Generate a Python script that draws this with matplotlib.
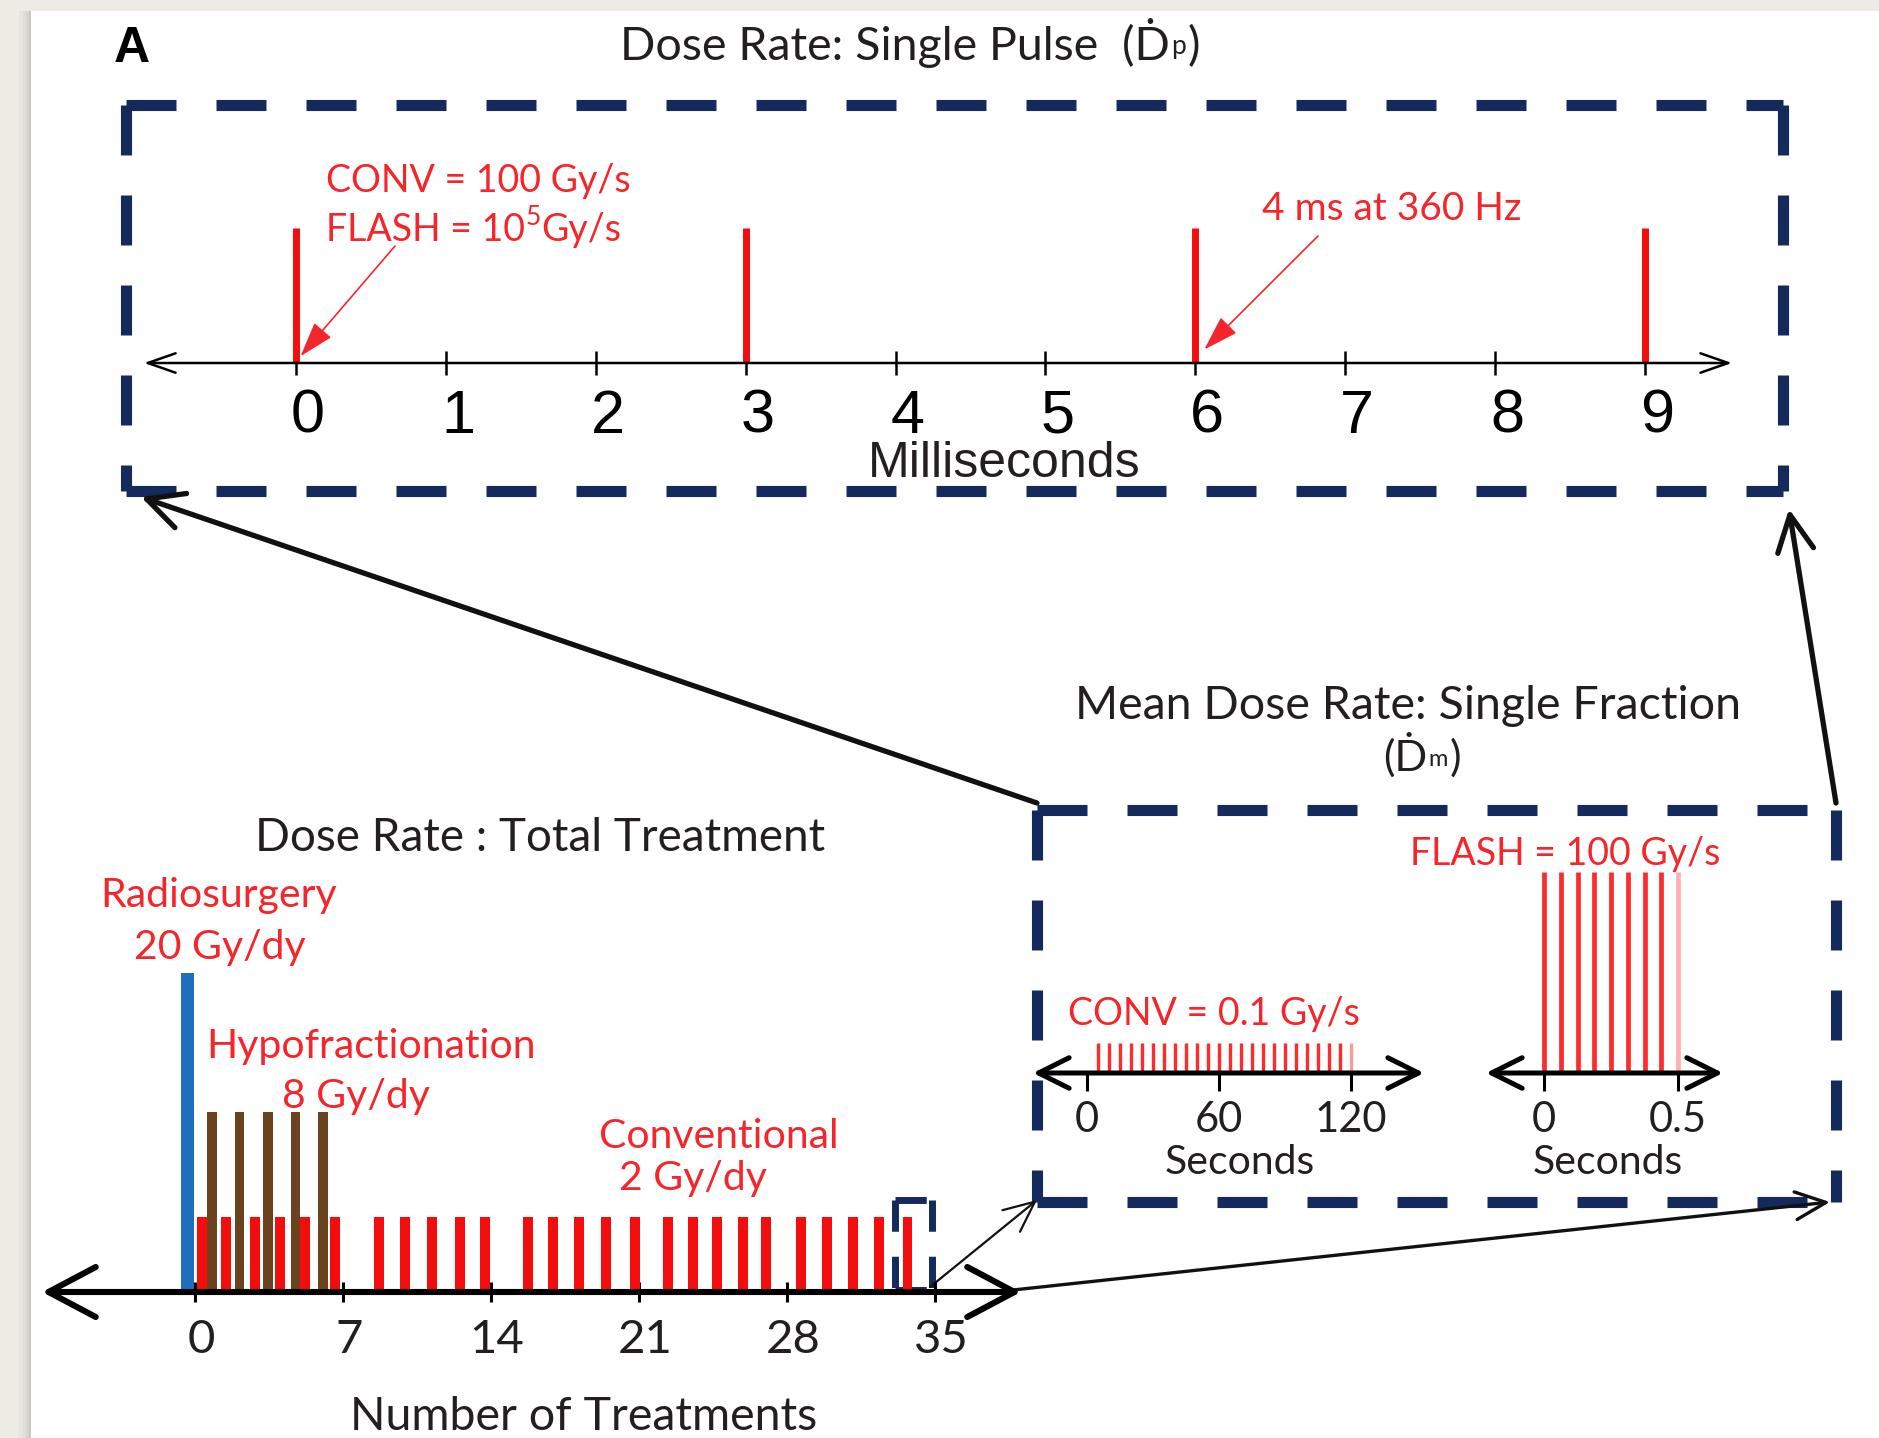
import matplotlib
matplotlib.use("Agg")
import matplotlib.pyplot as plt
from matplotlib import font_manager
from matplotlib.patches import Rectangle
from matplotlib.lines import Line2D
from matplotlib.transforms import ScaledTranslation

W, H = 1879, 1438

# ---- values ----
# top panel: single pulse, time in milliseconds
ms_ticks = [0, 1, 2, 3, 4, 5, 6, 7, 8, 9]
pulse_ms = [0, 3, 6, 9]
pulse_height = [1.0, 1.0, 1.0, 1.0]

# middle panel: one fraction, time in seconds
conv_sec_ticks = [0, 60, 120]
conv_pulse_sec = [5, 10, 15, 20, 25, 30, 35, 40, 45, 50, 55, 60,
                  65, 70, 75, 80, 85, 90, 95, 100, 105, 110, 115, 120]
conv_pulse_height = 0.15
flash_sec_ticks = [0, 0.5]
flash_sec_labels = ["0", "0.5"]
flash_pulse_sec = [0, 0.0625, 0.125, 0.1875, 0.25, 0.3125, 0.375, 0.4375, 0.5]
flash_pulse_height = 1.0

# bottom panel: whole treatment, number of treatments (days)
day_ticks = [0, 7, 14, 21, 28, 35]
radio_days = [-0.35]
radio_height = 8.5
hypo_days = [0.8, 2.1, 3.45, 4.75, 6.05]
hypo_height = 4.8
conv_days = [0.35, 1.45, 2.85, 4.0, 5.2, 6.6,
             8.7, 9.95, 11.2, 12.55, 13.7,
             15.75, 16.95, 18.15, 19.45, 20.8,
             22.35, 23.55, 24.7, 25.9, 27.0,
             28.65, 29.9, 31.1, 32.35, 33.7]
conv_height = 2.0

# ---- style ----
INK = "#231f20"
RED_TXT = "#f5262b"
RED = "#f40d0d"
NAVY = "#142a5c"
FILL = "#e7eaf1"
BROWN = "#6b421e"
BLUE = "#1f6ebe"

have = {f.name for f in font_manager.fontManager.ttflist}
NARROW = "Liberation Sans Narrow" if "Liberation Sans Narrow" in have else "Lato"
FAM = [NARROW, "DejaVu Sans"]
ARIAL = ["Liberation Sans", "DejaVu Sans"]


def px_axes(x0, x1, y0, y1):
    # axes placed by pixel box (y measured from the top)
    ax = fig.add_axes([x0 / W, 1 - y1 / H, (x1 - x0) / W, (y1 - y0) / H])
    ax.patch.set_visible(False)
    for s in ax.spines.values():
        s.set_visible(False)
    ax.set_yticks([])
    return ax


def lim(x0, x1, pa, va, pb, vb):
    k = (vb - va) / (pb - pa)
    return va + (x0 - pa) * k, va + (x1 - pa) * k


def number_line(ax, lw, hl, hw):
    ax.annotate("", xy=(0, 0), xytext=(1, 0), xycoords="axes fraction",
                arrowprops=dict(arrowstyle="<->,head_length=%s,head_width=%s" % (hl, hw),
                                lw=lw, color="black", shrinkA=0, shrinkB=0,
                                mutation_scale=10), zorder=6)


def shift_labels(ax, dx):
    off = ScaledTranslation(dx / 100, 0, fig.dpi_scale_trans)
    for t in ax.get_xticklabels():
        t.set_transform(t.get_transform() + off)


def dashed_box(x0, y0, x1, y1, lw=8):
    bg.add_patch(Rectangle((x0, y0), x1 - x0, y1 - y0, facecolor=FILL,
                           edgecolor="none", zorder=0))
    sides = [((x0, x1), (y0, y0)), ((x0, x1), (y1, y1)),
             ((x0, x0), (y0, y1)), ((x1, x1), (y0, y1))]
    for xs, ys in sides:
        bg.add_line(Line2D(xs, ys, color=NAVY, lw=lw, linestyle=(0, (4.5, 3.6)),
                           dash_capstyle="butt", zorder=1))


def label(x, y, s, size, color=INK, ha="center", fam=FAM, **kw):
    return bg.text(x, y, s, fontsize=size, color=color, ha=ha, va="baseline",
                   family=fam, **kw)


fig = plt.figure(figsize=(W / 100, H / 100), dpi=100)
fig.patch.set_facecolor("#ecece5")
bg = fig.add_axes([0, 0, 1, 1])
bg.set_xlim(0, W)
bg.set_ylim(H, 0)
bg.axis("off")

# page with a soft shadow
for off, a in [(12, 0.06), (8, 0.08), (5, 0.12), (2, 0.18)]:
    bg.add_patch(Rectangle((31 - off, 11), W, H, facecolor="#8f8f86", alpha=a,
                           edgecolor="none"))
bg.add_patch(Rectangle((31, 11), W, H, facecolor="white", edgecolor="none"))

# frames
dashed_box(126, 105, 1783, 491)
dashed_box(1037, 810, 1836, 1202)
dashed_box(895, 1200, 932, 1290, lw=5)

# connectors
big = dict(arrowstyle="->,head_length=2.6,head_width=1.3", lw=3.8, color="#111111",
           shrinkA=0, shrinkB=0, mutation_scale=10)
bg.annotate("", xy=(141, 497), xytext=(1037, 803), arrowprops=big)
bg.annotate("", xy=(1789, 509), xytext=(1836, 803), arrowprops=big)
thin = dict(arrowstyle="->,head_length=2.2,head_width=1.0", lw=1.6, color="#111111",
            shrinkA=0, shrinkB=0, mutation_scale=10)
bg.annotate("", xy=(1037, 1200), xytext=(930, 1287), arrowprops=thin)
thin2 = dict(thin, lw=2.4)
bg.annotate("", xy=(1830, 1202), xytext=(1013, 1290), arrowprops=thin2)

# ---- top panel: single pulse ----
ax1 = px_axes(144, 1732, 228, 363)
ax1.set_xlim(*lim(144, 1732, 296, 0, 1645, 9))
ax1.set_ylim(0, 1)
ax1.vlines(pulse_ms, 0, pulse_height, color=RED, lw=5, zorder=2)
number_line(ax1, 1.8, 2.0, 0.7)
ax1.set_xticks(ms_ticks)
ax1.tick_params(axis="x", direction="inout", length=17, width=1.8, pad=10, labelsize=44)
for t in ax1.get_xticklabels():
    t.set_family(ARIAL)
shift_labels(ax1, 12)

red_arrow = dict(arrowstyle="-|>,head_length=2.2,head_width=0.7", lw=1.2, color=RED_TXT,
                 shrinkA=0, shrinkB=0, mutation_scale=10)
ax1.annotate("", xy=(0.03, 0.05), xytext=(395, 246), textcoords=bg.transData,
             arrowprops=red_arrow, annotation_clip=False)
ax1.annotate("", xy=(6.06, 0.1), xytext=(1318, 236), textcoords=bg.transData,
             arrowprops=red_arrow, annotation_clip=False)

# ---- middle panel: one fraction ----
ax2a = px_axes(1033, 1424, 872, 1073)
ax2a.set_xlim(*lim(1033, 1424, 1087, 0, 1351, 120))
ax2a.set_ylim(0, 1)
ax2a.vlines(conv_pulse_sec[:-1], 0, conv_pulse_height, color="#ff2a2a", lw=2.4)
ax2a.vlines(conv_pulse_sec[-1:], 0, conv_pulse_height, color="#ff9a9a", lw=2.4)
number_line(ax2a, 3.6, 2.2, 1.1)
ax2a.set_xticks(conv_sec_ticks)

ax2b = px_axes(1486, 1723, 872, 1073)
ax2b.set_xlim(*lim(1486, 1723, 1544, 0, 1678, 0.5))
ax2b.set_ylim(0, 1)
ax2b.vlines(flash_pulse_sec[:-1], 0, flash_pulse_height, color="#ff2a2a", lw=3.4)
ax2b.vlines(flash_pulse_sec[-1:], 0, flash_pulse_height, color="#ffb0b0", lw=3.4)
number_line(ax2b, 3.6, 2.2, 1.1)
ax2b.set_xticks(flash_sec_ticks, labels=flash_sec_labels)

for ax in (ax2a, ax2b):
    ax.tick_params(axis="x", direction="out", length=13, width=2.2, pad=7,
                   labelsize=30, labelcolor=INK)
    for t in ax.get_xticklabels():
        t.set_family(FAM)

# ---- bottom panel: total treatment ----
ax3 = px_axes(42, 1021, 972, 1292)
ax3.set_xlim(*lim(42, 1021, 195, 0, 935, 35))
ax3.set_ylim(0, 8.53)
ax3.bar(conv_days, conv_height, width=0.47, color=RED, zorder=2)
ax3.bar(hypo_days, hypo_height, width=0.45, color=BROWN, zorder=3)
ax3.bar(radio_days, radio_height, width=0.62, color=BLUE, zorder=4)
number_line(ax3, 4.4, 3.4, 1.8)
ax3.set_xticks(day_ticks)
ax3.tick_params(axis="x", direction="inout", length=15, width=2.2, pad=12,
                labelsize=34, labelcolor=INK)
for t in ax3.get_xticklabels():
    t.set_family(FAM)
shift_labels(ax3, 6)

# ---- text ----
bg.text(132, 62, "A", fontsize=36, fontweight="bold", family=ARIAL, ha="center",
        va="baseline", color="black")

t1 = label(895, 60, "Dose Rate: Single Pulse  (\u1e0a", 33.5)
t2 = bg.annotate("p", xy=(1, 0.18), xycoords=t1, xytext=(1, 0), textcoords="offset points",
                 fontsize=19, family=FAM, color=INK, ha="left", va="bottom")
bg.annotate(")", xy=(1, 0), xycoords=(t2, t1), xytext=(1, 0), textcoords="offset points",
            fontsize=33.5, family=FAM, color=INK, ha="left", va="bottom")

label(326, 192, "CONV = 100 Gy/s", 27, RED_TXT, ha="left")
f1 = label(326, 241, "FLASH = 10", 27, RED_TXT, ha="left")
f2 = bg.annotate("5", xy=(1, 0.5), xycoords=f1, xytext=(0.5, 0), textcoords="offset points",
                 fontsize=19, family=FAM, color=RED_TXT, ha="left", va="bottom")
bg.annotate("Gy/s", xy=(1, 0), xycoords=(f2, f1), xytext=(0.5, 0), textcoords="offset points",
            fontsize=27, family=FAM, color=RED_TXT, ha="left", va="bottom")
label(1262, 220, "4 ms at 360 Hz", 28, RED_TXT, ha="left")
label(1004, 477, "Milliseconds", 36, fam=ARIAL)

label(1408, 719, "Mean Dose Rate: Single Fraction", 33.5)
m1 = label(1405, 771, "(\u1e0a", 31)
m2 = bg.annotate("m", xy=(1, 0.18), xycoords=m1, xytext=(1, 0), textcoords="offset points",
                 fontsize=17, family=FAM, color=INK, ha="left", va="bottom")
bg.annotate(")", xy=(1, 0), xycoords=(m2, m1), xytext=(1, 0), textcoords="offset points",
            fontsize=31, family=FAM, color=INK, ha="left", va="bottom")
label(1565, 865, "FLASH = 100 Gy/s", 27, RED_TXT)
label(1214, 1025, "CONV = 0.1 Gy/s", 27, RED_TXT)
label(1240, 1174, "Seconds", 29.5)
label(1608, 1174, "Seconds", 29.5)

label(540, 851, "Dose Rate : Total Treatment", 33)
label(219, 907, "Radiosurgery", 29.5, RED_TXT)
label(220, 959, "20 Gy/dy", 29.5, RED_TXT)
label(371, 1058, "Hypofractionation", 29.5, RED_TXT)
label(356, 1108, "8 Gy/dy", 29.5, RED_TXT)
label(719, 1148, "Conventional", 29.5, RED_TXT)
label(693, 1190, "2 Gy/dy", 29.5, RED_TXT)
label(584, 1430, "Number of Treatments", 33.5)

fig.savefig("out.png", dpi=100, facecolor=fig.get_facecolor())
